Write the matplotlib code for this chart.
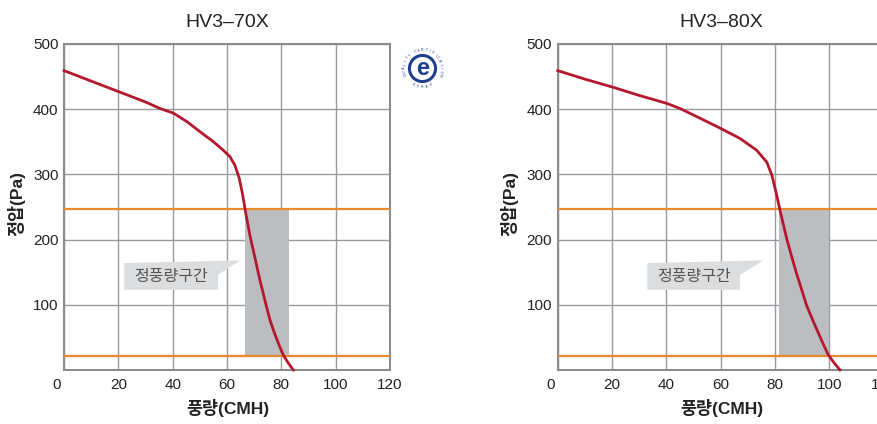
import numpy as np
import matplotlib.pyplot as plt
import matplotlib.transforms as mtransforms
from matplotlib.patches import Polygon, Circle

plt.rcParams['font.family'] = ['Liberation Sans', 'Noto Sans CJK KR', 'DejaVu Sans']

# ---- data ----
titles = ['HV3–70X', 'HV3–80X']

flow_70 = [0, 10, 20, 30, 35.3, 40.2, 45.2, 50, 55, 58.6, 61.1, 62.9, 64.5, 65.8,
           66.7, 68.5, 70.5, 72.1, 74, 75.8, 77, 78.9, 80.7, 82.5, 84.4]
pres_70 = [459, 443, 427, 411, 401, 394, 381, 365.5, 350, 337, 327, 314, 294, 268,
           245, 205, 168, 138, 106, 77, 62, 41, 23, 11, 0]

flow_80 = [0, 10, 20, 30, 40, 45, 52.4, 59.7, 67.1, 73.2, 76.9, 78.8, 80.6, 81.8,
           84.3, 86.1, 87.9, 89.8, 91.6, 94.1, 95.9, 97.8, 99.6, 101.7, 103.9]
pres_80 = [459, 446, 434, 421, 409, 401, 386, 371, 355, 337, 319, 299, 268, 245,
           201, 174, 148, 123, 99, 74, 57, 39, 23, 11, 0]

band_low, band_high = 22, 247          # orange limits (Pa)
band_70 = (66.6, 82.7)                  # grey constant-flow zone (CMH)
band_80 = (81.6, 100.0)

callout_text = '정풍량구간'
callout_70 = dict(x0=22.2, x1=56.7, tip=64.8, tx=39.4)
callout_80 = dict(x0=33.0, x1=67.1, tip=75.7, tx=50.0)

x_ticks = [0, 20, 40, 60, 80, 100, 120]
y_ticks = [100, 200, 300, 400, 500]

curve_color = '#b5172e'
orange = '#e98a2c'
grid_color = '#9a9a9a'

fig = plt.figure(figsize=(8.77, 4.24), dpi=100)

panels = [
    (0.073, titles[0], flow_70, pres_70, band_70, callout_70),
    (0.636, titles[1], flow_80, pres_80, band_80, callout_80),
]

for left, title, fx, py, band, co in panels:
    ax = fig.add_axes([left, 0.1274, 0.3717, 0.769])
    ax.set_xlim(0, 120)
    ax.set_ylim(0, 500)
    ax.set_xticks(x_ticks)
    ax.set_yticks(y_ticks)
    ax.grid(True, color=grid_color, linewidth=1.0)
    ax.set_axisbelow(True)
    for s in ax.spines.values():
        s.set_color('#8c8c8c')
        s.set_linewidth(1.5)
    ax.tick_params(length=0, labelsize=11, colors='#222222', pad=6)
    ax.tick_params(axis='y', pad=4)

    # shift the "0" label left like the original
    lbl0 = ax.get_xticklabels()[0]
    lbl0.set_transform(lbl0.get_transform() +
                       mtransforms.ScaledTranslation(-7 / 100, 0, fig.dpi_scale_trans))

    # grey zone and orange limits
    ax.fill_between(band, band_low, band_high, color='#bcbdc1', zorder=2, linewidth=0)
    ax.axhline(band_high, color=orange, linewidth=1.6, zorder=3)
    ax.axhline(band_low, color=orange, linewidth=1.6, zorder=3)

    ax.plot(fx, py, color=curve_color, linewidth=2.0, zorder=4, clip_on=False,
            solid_joinstyle='round')

    # callout bubble
    poly = Polygon([(co['x0'], 123), (co['x0'], 164), (co['tip'], 168),
                    (co['x1'], 146), (co['x1'], 123)],
                   closed=True, facecolor='#dcdddf', edgecolor='none', zorder=3)
    ax.add_patch(poly)
    ax.text(co['tx'], 144, callout_text, ha='center', va='center', fontsize=11.5,
            color='#555555', zorder=5)

    ax.text(0.5, 1.067, title, transform=ax.transAxes, ha='center', va='center',
            fontsize=14, color='#222222')
    ax.set_ylabel('정압(Pa)', fontsize=12.5, fontweight='bold', color='#222222',
                  va='center')
    ax.set_xlabel('풍량(CMH)', fontsize=12.5, fontweight='bold', color='#222222',
                  va='center')
    ax.yaxis.set_label_coords(-0.147, 0.512)
    ax.xaxis.set_label_coords(0.503, -0.117)

# small certification logo
lax = fig.add_axes([400 / 877, (424 - 91) / 424, 45 / 877, 45 / 424])
lax.set_xlim(-1, 1)
lax.set_ylim(-1, 1)
lax.set_aspect('equal')
lax.axis('off')
navy = '#1f3f8f'
lax.add_patch(Circle((0, 0), 0.58, fill=False, edgecolor=navy, linewidth=2.2))
lax.text(0.02, -0.02, 'e', ha='center', va='center', fontsize=17, fontweight='bold',
         color=navy)
ring_top = 'QUALITY CERTIFICATION'
angs = np.linspace(200, -20, len(ring_top))
for ch, a in zip(ring_top, angs):
    r = 0.82
    lax.text(r * np.cos(np.radians(a)), r * np.sin(np.radians(a)), ch, fontsize=2.6,
             ha='center', va='center', rotation=a - 90, color=navy)
ring_bot = 'KARSE'
angs = np.linspace(-60, -120, len(ring_bot))
for ch, a in zip(ring_bot, angs):
    r = 0.82
    lax.text(r * np.cos(np.radians(a)), r * np.sin(np.radians(a)), ch, fontsize=2.6,
             ha='center', va='center', rotation=a + 90, color=navy)

fig.savefig('out.png', dpi=100)
